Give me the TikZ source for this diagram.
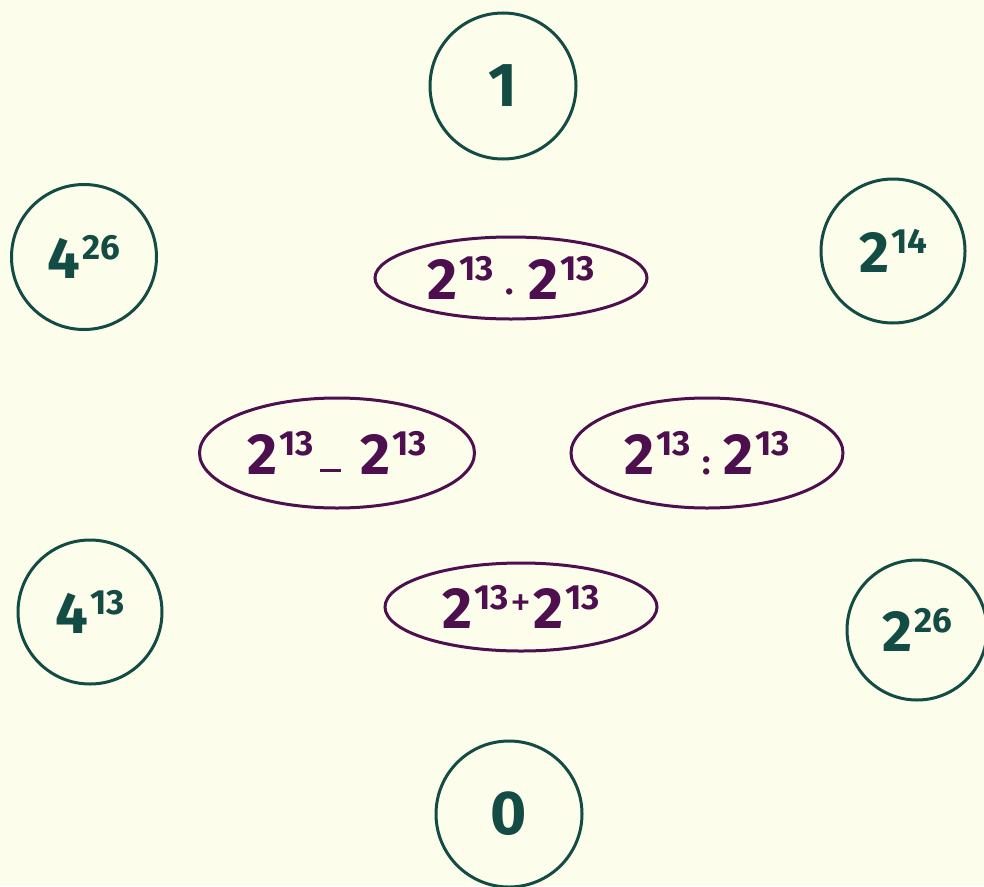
\documentclass[tikz,border=0pt]{standalone}
\usepackage{fontspec}
\setmainfont{Fira Sans}
\usetikzlibrary{shapes.geometric}
\definecolor{bgc}{HTML}{FDFDEB}
\definecolor{tealc}{HTML}{134B45}
\definecolor{plumc}{HTML}{4D0F4D}
\newcommand\supsz{\fontsize{35}{36}\selectfont}
\newcommand\pw[2]{#1\kern2pt\raisebox{19pt}{\supsz #2}}
\tikzset{
  cnode/.style={circle, draw=tealc, line width=3pt, text=tealc, inner sep=0pt,
    font=\fontsize{58}{60}\selectfont\bfseries},
  enode/.style={ellipse, draw=plumc, line width=3pt, text=plumc, inner sep=0pt,
    font=\fontsize{58}{60}\selectfont\bfseries},
}
\begin{document}
\begin{tikzpicture}[x=1pt,y=-1pt]
\fill[bgc] (0,0) rectangle (984,886);
\useasboundingbox (0,0) rectangle (984,886);
% circles
\node[cnode, minimum size=146pt] (one) at (503,86) {\fontsize{62}{62}\selectfont 1};
\node[cnode, minimum size=145pt] (a) at (84,257) {\pw{4}{26}};
\node[cnode, minimum size=144pt] (b) at (893,251) {\pw{2}{14}};
\node[cnode, minimum size=144pt] (c) at (90,612) {\pw{4}{13}};
\node[cnode, minimum size=140pt] (d) at (917,630) {\pw{2}{26}};
\node[cnode, minimum size=146pt] (zero) at (509,814) {\fontsize{62}{62}\selectfont 0};
% ellipses
\node[enode, minimum width=272pt, minimum height=82pt] (mul) at (511,278)
  {\pw{2}{13}\kern12pt\raisebox{5pt}{\supsz .}\kern14pt\pw{2}{13}};
\node[enode, minimum width=275pt, minimum height=110pt] (sub) at (337,453)
  {\pw{2}{13}\kern6pt\rule[3pt]{21pt}{3pt}\kern20pt\pw{2}{13}};
\node[enode, minimum width=272pt, minimum height=110pt] (div) at (707,453)
  {\pw{2}{13}\kern12pt{\supsz :}\kern12pt\pw{2}{13}};
\node[enode, minimum width=272pt, minimum height=88pt] (add) at (521,607)
  {\pw{2}{13}\kern2pt\raisebox{12pt}{\fontsize{42}{42}\selectfont\mdseries +}\kern2pt\pw{2}{13}};
\end{tikzpicture}
\end{document}
